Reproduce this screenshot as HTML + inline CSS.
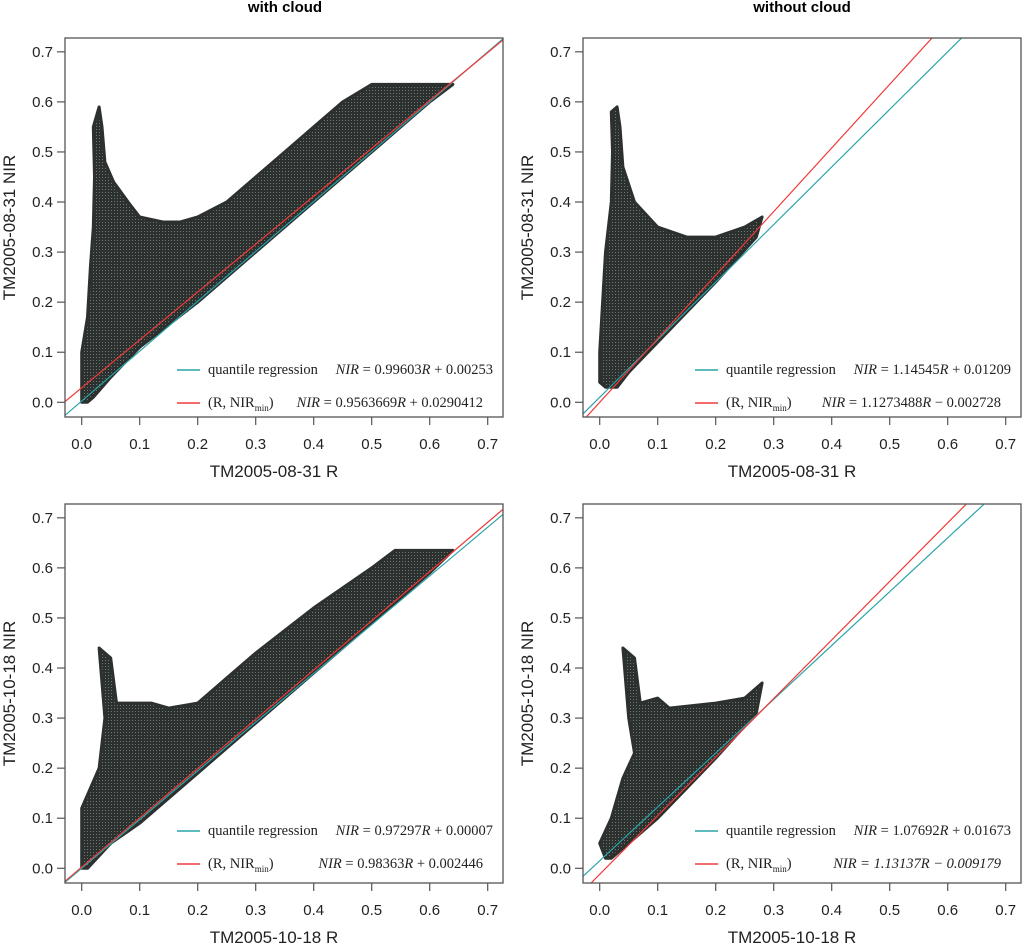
<!DOCTYPE html>
<html><head><meta charset="utf-8">
<style>
html,body{margin:0;padding:0;background:#fff;}
svg{display:block;font-family:"Liberation Sans",sans-serif;}
</style></head>
<body>
<svg id="fig" width="1024" height="947" viewBox="0 0 1024 947" xmlns="http://www.w3.org/2000/svg">
<defs>
<pattern id="hatch" width="3" height="3" patternUnits="userSpaceOnUse">
<rect width="3" height="3" fill="#2c302e"/>
<rect x="0" y="0" width="1" height="1" fill="#6d7a74"/>
</pattern>
</defs>
<text x="285" y="12" text-anchor="middle" font-weight="bold" font-size="15">with cloud</text>
<text x="802" y="12" text-anchor="middle" font-weight="bold" font-size="15">without cloud</text>
</svg>
<script>
const xTicks = [0.0,0.1,0.2,0.3,0.4,0.5,0.6,0.7];
const yTicks = [0.0,0.1,0.2,0.3,0.4,0.5,0.6,0.7];
const tickLabels = ["0.0","0.1","0.2","0.3","0.4","0.5","0.6","0.7"];
const panelNames = ["with-cloud-0831","without-cloud-0831","with-cloud-1018","without-cloud-1018"];
const xLabels = ["TM2005-08-31 R","TM2005-08-31 R","TM2005-10-18 R","TM2005-10-18 R"];
const yLabels = ["TM2005-08-31 NIR","TM2005-08-31 NIR","TM2005-10-18 NIR","TM2005-10-18 NIR"];
// lines as drawn in the picture
const qrSlope = [0.99603,1.15,0.97297,1.075];
const qrIntercept = [0.00253,0.01,0.00007,0.015];
const minSlope = [0.9563669,1.27,0.98363,1.17];
const minIntercept = [0.0290412,0.0,0.002446,-0.012];
const qrCoef = ["0.99603","1.14545","0.97297","1.07692"];
const qrConst = ["+ 0.00253","+ 0.01209","+ 0.00007","+ 0.01673"];
const minCoef = ["0.9563669","1.1273488","0.98363","1.13137"];
const minConst = ["+ 0.0290412","− 0.002728","+ 0.002446","− 0.009179"];
// scatter envelope outlines (R, NIR)
const envR0 = [0.0,0.0,0.01,0.015,0.02,0.022,0.02,0.03,0.035,0.04,0.055,0.08,0.1,0.14,0.17,0.2,0.25,0.3,0.35,0.4,0.45,0.5,0.64,0.6,0.5,0.4,0.3,0.2,0.1,0.05,0.02,0.01];
const envN0 = [0.0,0.1,0.17,0.27,0.35,0.45,0.55,0.59,0.55,0.48,0.44,0.40,0.37,0.36,0.36,0.37,0.40,0.45,0.50,0.55,0.60,0.635,0.635,0.60,0.50,0.40,0.30,0.20,0.11,0.05,0.01,0.0];
const envR1 = [0.0,0.0,0.005,0.01,0.02,0.022,0.02,0.03,0.035,0.04,0.06,0.1,0.15,0.2,0.25,0.28,0.27,0.2,0.1,0.05,0.03,0.01];
const envN1 = [0.04,0.1,0.2,0.3,0.4,0.5,0.58,0.59,0.55,0.47,0.40,0.35,0.33,0.33,0.35,0.37,0.33,0.24,0.12,0.06,0.03,0.03];
const envR2 = [0.0,0.0,0.03,0.04,0.03,0.05,0.06,0.09,0.12,0.15,0.2,0.25,0.3,0.4,0.5,0.54,0.64,0.6,0.5,0.4,0.3,0.2,0.1,0.05,0.01];
const envN2 = [0.0,0.12,0.2,0.3,0.44,0.42,0.33,0.33,0.33,0.32,0.33,0.38,0.43,0.52,0.60,0.635,0.635,0.59,0.49,0.39,0.29,0.19,0.09,0.05,0.0];
const envR3 = [0.01,0.0,0.02,0.04,0.06,0.05,0.04,0.06,0.07,0.1,0.12,0.2,0.25,0.28,0.27,0.2,0.15,0.1,0.05,0.02];
const envN3 = [0.02,0.05,0.10,0.18,0.23,0.30,0.44,0.42,0.33,0.34,0.32,0.33,0.34,0.37,0.31,0.22,0.16,0.10,0.05,0.02];
const envRs=[envR0,envR1,envR2,envR3], envNs=[envN0,envN1,envN2,envN3];

const NS="http://www.w3.org/2000/svg";
const svg=document.getElementById('fig');
function mk(tag,attrs,parent){const e=document.createElementNS(NS,tag);for(const k in attrs)e.setAttribute(k,attrs[k]);(parent||svg).appendChild(e);return e;}
const offX=[65,583,65,583], offY=[38,38,504,504];
const W=438,H=379;
for(let p=0;p<4;p++){
  const ox=offX[p], oy=offY[p];
  const sx=v=>ox+16.7+v*580;
  const sy=v=>oy+364.3-v*500.7;
  const g=mk('g',{});
  
  
  const cp=mk('clipPath',{id:'clip'+p},g);
  mk('rect',{x:ox,y:oy,width:W,height:H},cp);
  const pts=envRs[p].map((r,i)=>sx(r).toFixed(1)+','+sy(envNs[p][i]).toFixed(1)).join(' ');
  const sc=mk('polygon',{points:pts,fill:'url(#hatch)',stroke:'#2c302e','stroke-width':3,'stroke-linejoin':'round'},g);
  
  
  const x0=-0.05,x1=0.8;
  const ql=mk('line',{x1:sx(x0),y1:sy(qrSlope[p]*x0+qrIntercept[p]),x2:sx(x1),y2:sy(qrSlope[p]*x1+qrIntercept[p]),stroke:'#2aa3a8','stroke-width':1.2,'clip-path':'url(#clip'+p+')'},g);
  
  
  const rl=mk('line',{x1:sx(x0),y1:sy(minSlope[p]*x0+minIntercept[p]),x2:sx(x1),y2:sy(minSlope[p]*x1+minIntercept[p]),stroke:'#f03a3a','stroke-width':1.2,'clip-path':'url(#clip'+p+')'},g);
  
  
  const bx=mk('rect',{x:ox,y:oy,width:W,height:H,fill:'none',stroke:'#555','stroke-width':1.3},g);
  
  
  xTicks.forEach((t,i)=>{
    mk('line',{x1:sx(t),x2:sx(t),y1:oy+H,y2:oy+H+8,stroke:'#555','stroke-width':1.2},g);
    const tl=mk('text',{x:sx(t),y:oy+H+32,'text-anchor':'middle','font-size':15,fill:'#222'},g);
    tl.textContent=tickLabels[i];
    
    
  });
  yTicks.forEach((t,i)=>{
    mk('line',{x1:ox,x2:ox-8,y1:sy(t),y2:sy(t),stroke:'#555','stroke-width':1.2},g);
    const tl=mk('text',{x:ox-12,y:sy(t)+5,'text-anchor':'end','font-size':15,fill:'#222'},g);
    tl.textContent=tickLabels[i];
    
    
  });
  const xl=mk('text',{x:ox+W/2-10,y:oy+H+60,'text-anchor':'middle','font-size':17,fill:'#222'},g);
  xl.textContent=xLabels[p];
  
  
  const yx=ox-50, yy=oy+H/2;
  const yl=mk('text',{x:yx,y:yy,'text-anchor':'middle','font-size':17,fill:'#222',transform:'rotate(-90 '+yx+' '+yy+')'},g);
  yl.textContent=yLabels[p];
  
  
  const ly1=oy+(p<2?332:327), ly2=oy+(p<2?365:360);
  const lg=mk('g',{'font-family':'"Liberation Serif",serif','font-size':14.5,fill:'#222'},g);
  
  
  mk('line',{x1:ox+112,x2:ox+135,y1:ly1,y2:ly1,stroke:'#2aa3a8','stroke-width':1.5},lg);
  mk('line',{x1:ox+112,x2:ox+135,y1:ly2,y2:ly2,stroke:'#f03a3a','stroke-width':1.5},lg);
  const t1=mk('text',{x:ox+143,y:ly1+4},lg); t1.textContent='quantile regression';
  
  
  const t2=mk('text',{x:ox+143,y:ly2+4},lg);
  t2.innerHTML='(R, NIR<tspan font-size="9" dy="4">min</tspan><tspan dy="-4">)</tspan>';
  
  
  const e1=mk('text',{x:ox+W-10,y:ly1+4,'text-anchor':'end'},lg);
  e1.innerHTML='<tspan font-style="italic">NIR</tspan> = '+qrCoef[p]+'<tspan font-style="italic">R</tspan> '+qrConst[p];
  
  
  const e2=mk('text',{x:ox+W-20,y:ly2+4,'text-anchor':'end','font-style':p===3?'italic':'normal'},lg);
  e2.innerHTML='<tspan font-style="italic">NIR</tspan> = '+minCoef[p]+'<tspan font-style="italic">R</tspan> '+minConst[p];
  
  
}
</script>
</body></html>
